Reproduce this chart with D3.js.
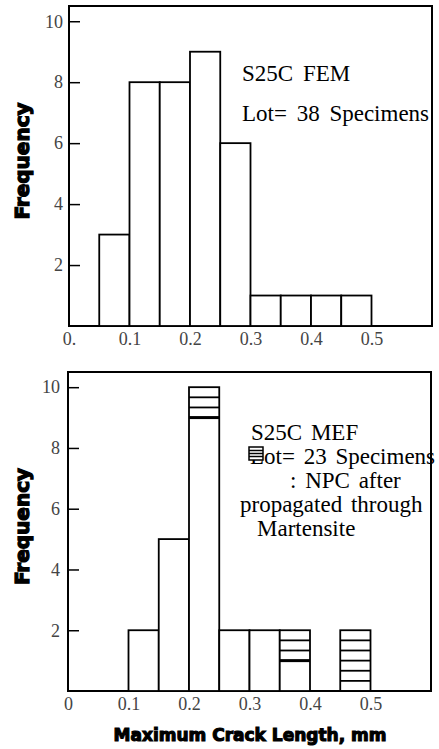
<!DOCTYPE html>
<html>
<head>
<meta charset="utf-8">
<script src="https://cdn.jsdelivr.net/npm/d3@7"></script>
<style>
  body { margin: 0; background: #fff; }
  svg { display: block; }
</style>
</head>
<body>
<svg id="chart" width="439" height="749"></svg>
<script>
// bin edges (mm), width 0.05
var binWidth = 0.05;
var femBins = [0.05, 0.10, 0.15, 0.20, 0.25, 0.30, 0.35, 0.40, 0.45];
var femCounts = [3, 8, 8, 9, 6, 1, 1, 1, 1];

var mefBins = [0.10, 0.15, 0.20, 0.25, 0.30, 0.35, 0.40, 0.45];
var mefPlain = [2, 5, 9, 2, 2, 1, 0, 0];
var mefHatched = [0, 0, 1, 0, 0, 1, 0, 2];

var xTicks = [0, 0.1, 0.2, 0.3, 0.4, 0.5];
var xTickLabelsTop = ["0.", "0.1", "0.2", "0.3", "0.4", "0.5"];
var xTickLabelsBottom = ["0", "0.1", "0.2", "0.3", "0.4", "0.5"];
var yTicks = [2, 4, 6, 8, 10];

var femText = ["S25C FEM", "Lot= 38 Specimens"];
var mefText = ["S25C MEF", "Lot= 23 Specimens", ": NPC after", "propagated through", "Martensite"];

var svg = d3.select("#chart");

function panel(top, bottom, left, right, xLabels, yPad) {
    var g = svg.append("g");
    var x = d3.scaleLinear().domain([0, 0.6]).range([left, right]);
    var y = d3.scaleLinear().domain([0, 10.5]).range([bottom, top]);

    g.append("rect")
        .attr("x", left).attr("y", top)
        .attr("width", right - left).attr("height", bottom - top)
        .attr("fill", "none").attr("stroke", "#000").attr("stroke-width", 2);

    var ya = g.append("g")
        .attr("transform", "translate(" + left + ",0)")
        .call(d3.axisLeft(y).tickValues(yTicks).tickSize(-11).tickPadding(yPad));
    ya.select(".domain").remove();
    ya.selectAll("line").attr("stroke", "#000").attr("stroke-width", 1.5);
    ya.selectAll("text")
        .attr("font-family", "Liberation Serif").attr("font-size", 18)
        .attr("fill", "#444");

    var xa = g.append("g")
        .attr("transform", "translate(0," + bottom + ")")
        .call(d3.axisBottom(x).tickValues(xTicks).tickSize(0).tickPadding(6)
            .tickFormat(function (d, i) { return xLabels[i]; }));
    xa.select(".domain").remove();
    xa.selectAll("text")
        .attr("font-family", "Liberation Serif").attr("font-size", 18)
        .attr("fill", "#444");

    g.append("text")
        .attr("transform", "translate(29," + ((top + bottom) / 2 - 5) + ") rotate(-90)")
        .attr("text-anchor", "middle")
        .attr("font-family", "DejaVu Sans").attr("font-weight", "bold")
        .attr("font-size", 20)
        .attr("stroke", "#000").attr("stroke-width", 1.3)
        .text("Frequency");

    return { g: g, x: x, y: y };
}

// top panel
var p1 = panel(6, 326, 69, 432, xTickLabelsTop, 6);
p1.g.selectAll(".bar")
    .data(femBins)
    .enter().append("rect")
    .attr("class", "bar")
    .attr("x", function (d) { return p1.x(d); })
    .attr("width", function (d) { return p1.x(d + binWidth) - p1.x(d); })
    .attr("y", function (d, i) { return p1.y(femCounts[i]); })
    .attr("height", function (d, i) { return p1.y(0) - p1.y(femCounts[i]); })
    .attr("fill", "#fff").attr("stroke", "#000").attr("stroke-width", 1.8);

p1.g.selectAll(".lbl")
    .data(femText)
    .enter().append("text")
    .attr("x", 242)
    .attr("y", function (d, i) { return 81 + i * 40; })
    .attr("font-family", "Liberation Serif").attr("font-size", 23)
    .attr("word-spacing", 4)
    .text(function (d) { return d; });

// bottom panel
var p2 = panel(372, 691, 68, 431, xTickLabelsBottom, 8);
var mef = mefBins.map(function (b, i) {
    return { b: b, plain: mefPlain[i], hatch: mefHatched[i] };
}).filter(function (d) { return d.plain + d.hatch > 0; });

p2.g.selectAll(".bar")
    .data(mef)
    .enter().append("rect")
    .attr("class", "bar")
    .attr("x", function (d) { return p2.x(d.b); })
    .attr("width", function (d) { return p2.x(d.b + binWidth) - p2.x(d.b); })
    .attr("y", function (d) { return p2.y(d.plain + d.hatch); })
    .attr("height", function (d) { return p2.y(0) - p2.y(d.plain + d.hatch); })
    .attr("fill", "#fff").attr("stroke", "#000").attr("stroke-width", 1.8);

// hatching: horizontal lines every 1/3 count
mef.filter(function (d) { return d.hatch > 0; }).forEach(function (d) {
    var n = d.hatch * 3;
    for (var k = 0; k < n; k++) {
        var v = d.plain + k / 3;
        p2.g.append("line")
            .attr("x1", p2.x(d.b)).attr("x2", p2.x(d.b + binWidth))
            .attr("y1", p2.y(v)).attr("y2", p2.y(v))
            .attr("stroke", "#000")
            .attr("stroke-width", k === 0 && d.plain > 0 ? 3 : 1.8);
    }
});

p2.g.selectAll(".lbl")
    .data(mefText)
    .enter().append("text")
    .attr("x", function (d, i) { return [251, 250, 290, 240, 257][i]; })
    .attr("y", function (d, i) { return 440 + i * 24; })
    .attr("font-family", "Liberation Serif").attr("font-size", 23)
    .attr("word-spacing", 3)
    .text(function (d) { return d; });

// legend hatch swatch over the "L"
var sw = p2.g.append("g").attr("transform", "translate(249,447)");
sw.append("rect").attr("width", 14).attr("height", 13)
    .attr("fill", "#fff").attr("stroke", "#000").attr("stroke-width", 1.5);
[3.5, 6.5, 9.5].forEach(function (yy) {
    sw.append("line").attr("x1", 0).attr("x2", 14).attr("y1", yy).attr("y2", yy)
        .attr("stroke", "#000").attr("stroke-width", 1.5);
});

svg.append("text")
    .attr("x", 250).attr("y", 741)
    .attr("text-anchor", "middle")
    .attr("font-family", "DejaVu Sans").attr("font-weight", "bold")
    .attr("font-size", 17)
    .attr("stroke", "#000").attr("stroke-width", 1.1)
    .text("Maximum Crack Length, mm");
</script>
</body>
</html>
